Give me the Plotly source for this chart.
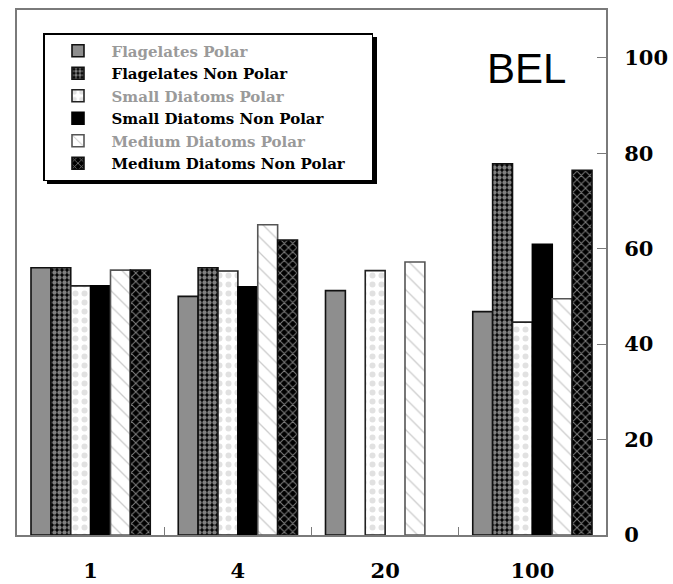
import plotly.graph_objects as go

# Categories along the x axis
groups = ["1", "4", "20", "100"]

# Percentages per series (None = no bar)
flag_polar = [56.0, 50.0, 51.2, 46.8]
flag_nonpolar = [56.0, 56.0, None, 77.8]
small_polar = [52.2, 55.3, 55.4, 44.6]
small_nonpolar = [52.2, 52.0, None, 60.9]
medium_polar = [55.5, 65.0, 57.2, 49.5]
medium_nonpolar = [55.5, 61.8, None, 76.4]

y_ticks = [0, 20, 40, 60, 80, 100]

GRAY_TXT = "#9a9a9a"
PAD = "\u00a0" * 4  # widens the legend box a little

series = [
    ("Flagelates Polar", flag_polar, GRAY_TXT,
     dict(color="#8e8e8e", line=dict(color="#111", width=1.6))),
    ("Flagelates Non Polar", flag_nonpolar, "black",
     dict(color="black", line=dict(color="#111", width=1.6),
          pattern=dict(shape=".", fgcolor="white", bgcolor="black", size=5, solidity=0.6))),
    ("Small Diatoms Polar", small_polar, GRAY_TXT,
     dict(color="white", line=dict(color="#222", width=1.6),
          pattern=dict(shape=".", fgcolor="#c4c4c4", bgcolor="white", size=9, solidity=0.35))),
    ("Small Diatoms Non Polar", small_nonpolar, "black",
     dict(color="black", line=dict(color="black", width=1.6))),
    ("Medium Diatoms Polar", medium_polar, GRAY_TXT,
     dict(color="white", line=dict(color="#555", width=1.6),
          pattern=dict(shape="\\", fgcolor="#9a9a9a", bgcolor="white", size=11, solidity=0.12))),
    ("Medium Diatoms Non Polar", medium_nonpolar, "black",
     dict(color="black", line=dict(color="#111", width=1.6),
          pattern=dict(shape="x", fgcolor="white", bgcolor="black", size=6, solidity=0.3))),
]

fig = go.Figure()
for i, (name, vals, txt_color, marker) in enumerate(series):
    label = f"<span style='color:{txt_color}'>{name}</span>"
    if i == len(series) - 1:
        label += PAD
    fig.add_trace(go.Bar(x=groups, y=vals, marker=marker, name=label))

axis_font = dict(family="DejaVu Serif", size=21, color="black", weight="bold")

# plot area in pixels: x 17..606, y 10..535
def px_x(v):
    return (v - 17) / 589

def px_y(v):
    return (535 - v) / 525

fig.update_layout(
    width=673, height=584,
    margin=dict(l=17, r=67, t=10, b=49),
    paper_bgcolor="white", plot_bgcolor="white",
    barmode="group", bargap=0.19, bargroupgap=0,
    showlegend=True,
    legend=dict(
        x=px_x(43), y=px_y(33), xanchor="left", yanchor="top",
        bgcolor="white", bordercolor="black", borderwidth=1.5,
        font=dict(family="DejaVu Serif", size=15, color="black", weight="bold"),
        itemwidth=57, tracegroupgap=0,
    ),
    xaxis=dict(
        type="category", categoryorder="array", categoryarray=groups,
        showline=True, linecolor="#7a7a7a", linewidth=2, mirror=True,
        ticks="inside", tickson="boundaries", ticklen=8, tickcolor="#7a7a7a",
        tickfont=axis_font, ticklabelstandoff=16, showgrid=False,
        automargin=False,
    ),
    yaxis=dict(
        range=[0, 110], side="right", tickvals=y_ticks,
        showline=True, linecolor="#7a7a7a", linewidth=2, mirror=True,
        ticks="inside", ticklen=9, tickcolor="#7a7a7a",
        tickfont=axis_font, ticklabelstandoff=12, showgrid=False, zeroline=False,
        automargin=False,
    ),
    annotations=[dict(
        text="BEL", x=px_x(526), y=px_y(68), xref="paper", yref="paper",
        xanchor="center", yanchor="middle",
        showarrow=False, font=dict(family="Liberation Sans", size=42, color="black"),
    )],
    shapes=[dict(
        type="rect", xref="paper", yref="paper",
        x0=px_x(47), x1=px_x(377), y0=px_y(184), y1=px_y(37),
        fillcolor="black", line=dict(width=0), layer="above",
    )],
)

fig.write_html("out.html")
